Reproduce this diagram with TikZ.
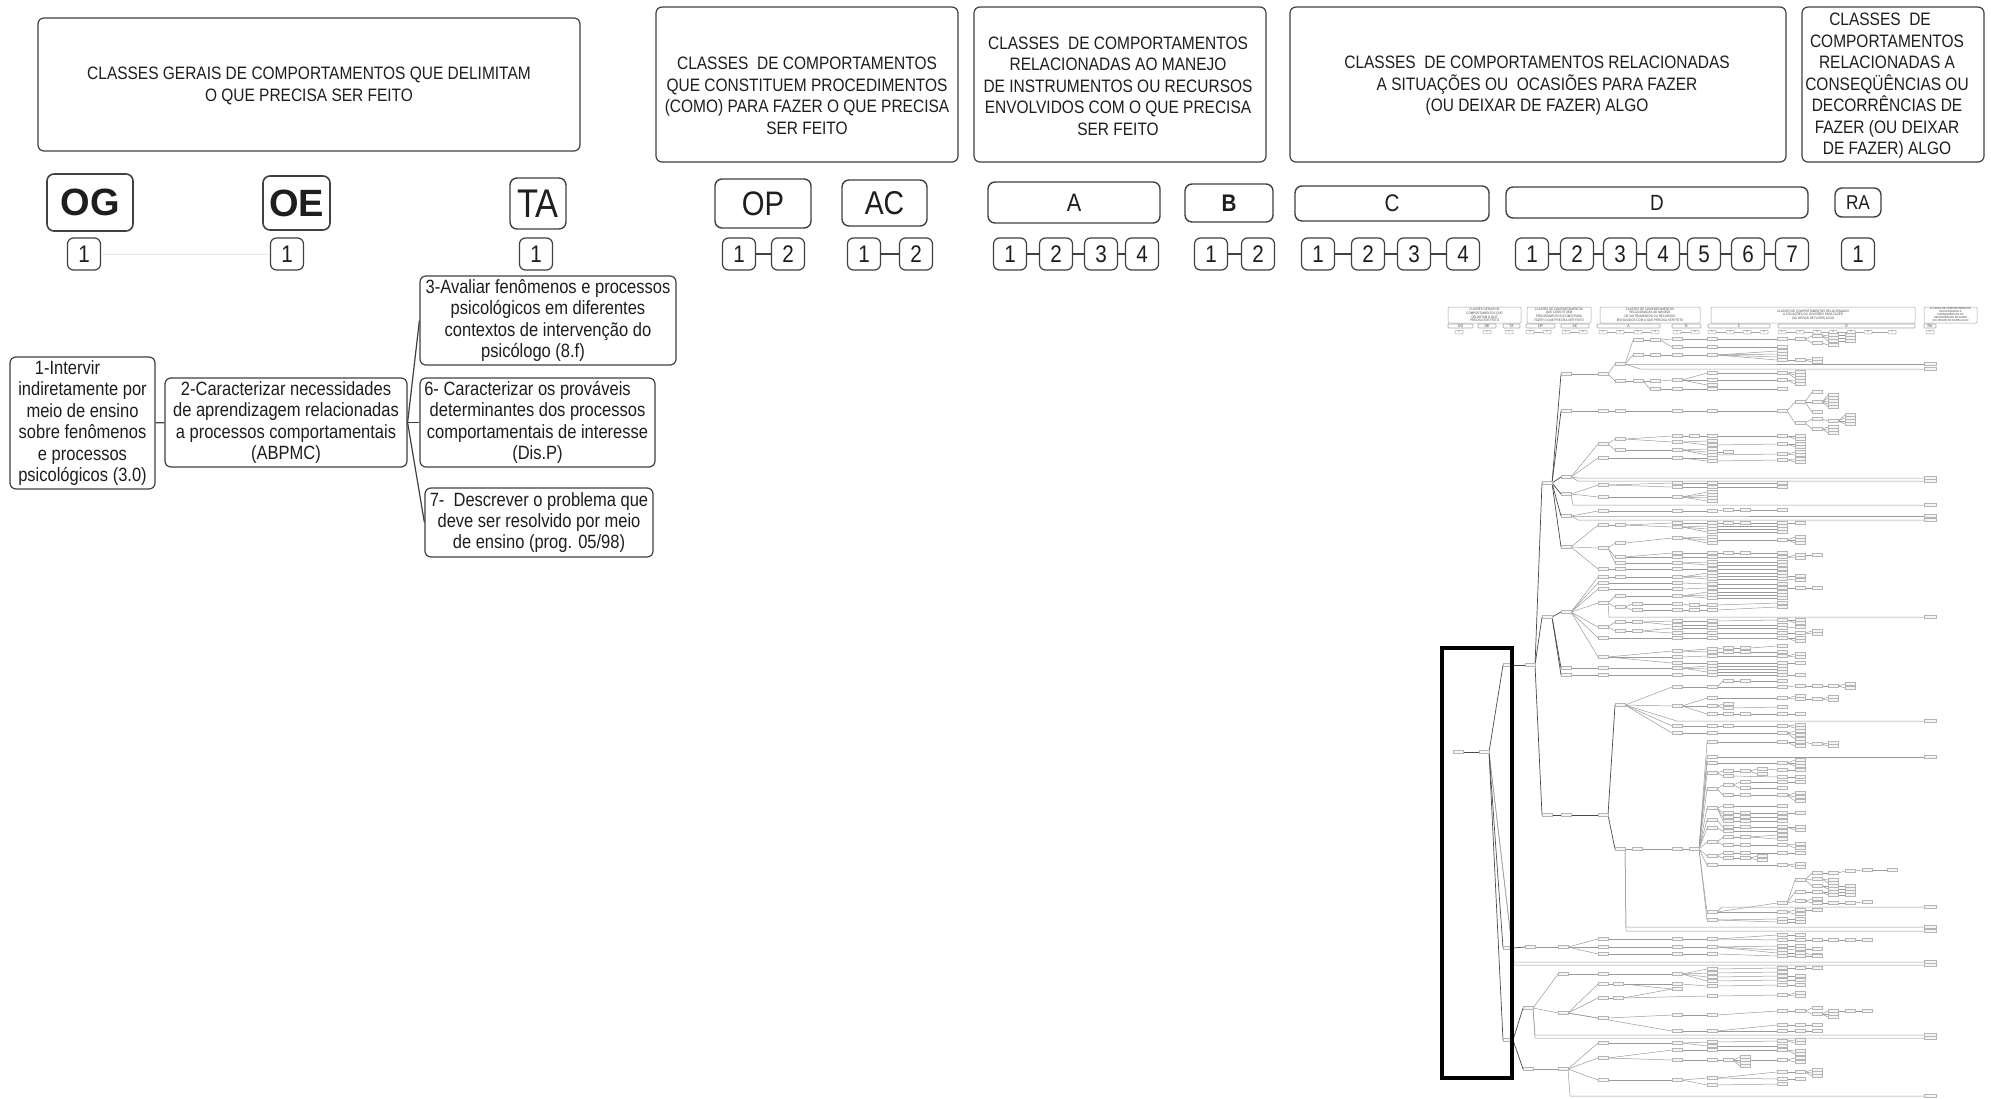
\documentclass[tikz,border=0pt]{standalone}
\usepackage{fontspec}
\setmainfont{Liberation Sans}[FakeStretch=0.86]
\newfontfamily\plainsans{Liberation Sans}
\definecolor{boxc}{HTML}{404040}
\definecolor{txtc}{HTML}{1E1E1E}
\definecolor{tlc}{HTML}{9A9A9A}
\definecolor{tdc}{HTML}{4A4A4A}
\tikzset{
 hbox/.style={draw=boxc, rounded corners=3pt, line width=0.6pt, inner sep=0pt},
 htxt/.style={align=center, text=txtc, inner sep=0pt, font=\fontsize{9}{10.75}\selectfont},
 cbox/.style={draw=boxc, rounded corners=3.5pt, line width=0.7pt, inner sep=0pt, text=txtc},
 nbox/.style={draw=boxc, rounded corners=3pt, line width=0.6pt, inner sep=0pt, minimum width=16.5pt, minimum height=16pt, text=txtc, font=\fontsize{12}{12}\selectfont},
 nline/.style={draw=boxc, line width=0.6pt},
 fbox/.style={draw=boxc, rounded corners=3pt, line width=0.6pt, inner sep=0pt, align=center, text=txtc, font=\fontsize{9.6}{10.7}\selectfont},
 conn/.style={draw=boxc, line width=0.6pt},
 tl/.style={draw=tlc, line width=0.25pt},
 td/.style={draw=tdc, line width=0.35pt},
 tb/.style={draw=gray!58, fill=gray!8, line width=0.18pt},
 mbox/.style={draw=gray!70, line width=0.25pt, inner sep=0pt, rounded corners=0.5pt, align=center, text=gray!55!black, font=\fontsize{1.7}{1.9}\selectfont},
 mcb/.style={draw=gray!70, line width=0.3pt, inner sep=0pt, rounded corners=0.4pt, minimum height=2pt, text=gray!50!black, font=\fontsize{2}{2}\selectfont},
 mnb/.style={draw=gray!70, line width=0.25pt, inner sep=0pt, rounded corners=0.3pt, minimum width=4pt, minimum height=1.75pt, text=gray!50!black, font=\fontsize{1.4}{1.4}\selectfont},
 mline/.style={draw=gray!70, line width=0.25pt}
}
\newcommand\MyTreeEdges[2]{\foreach \a/\b/\c/\d in {#2}{%
  \draw[#1] (\a+5,\b) -- (\c-5,\d);
  \draw[tb] (\a-5,\b-1.5) rectangle (\a+5,\b+1.5);
  \draw[tb] (\c-5,\d-1.5) rectangle (\c+5,\d+1.5);}}
\begin{document}
\begin{tikzpicture}[x=0.5pt,y=-0.5pt]
\useasboundingbox (0,0) rectangle (1991,1098);
\fill[white] (0,0) rectangle (1991,1098);

% ---------- header boxes ----------
\node[hbox, minimum width=271pt, minimum height=66.5pt] (h1) at (309,84.5) {};
\node[hbox, minimum width=151pt, minimum height=77.5pt] (h2) at (807,84.5) {};
\node[hbox, minimum width=146pt, minimum height=77.5pt] (h3) at (1120,84.5) {};
\node[hbox, minimum width=248pt, minimum height=77.5pt] (h4) at (1538,84.5) {};
\node[hbox, minimum width=91pt, minimum height=77.5pt] (h5) at (1893,84.5) {};
\node[htxt] (h1t) at (309,86) {CLASSES GERAIS DE COMPORTAMENTOS QUE DELIMITAM\\O QUE PRECISA SER FEITO};
\node[htxt] (h2t) at (807,96) {CLASSES\ \ DE COMPORTAMENTOS\\QUE CONSTITUEM PROCEDIMENTOS\\(COMO) PARA FAZER O QUE PRECISA\\SER FEITO};
\node[htxt] (h3t) at (1118,86) {CLASSES\ \ DE COMPORTAMENTOS\\RELACIONADAS AO MANEJO\\DE INSTRUMENTOS OU RECURSOS\\ENVOLVIDOS COM O QUE PRECISA\\SER FEITO};
\node[htxt] (h4t) at (1537,86) {CLASSES\ \ DE COMPORTAMENTOS RELACIONADAS\\A SITUAÇÕES OU\ \ OCASIÕES PARA FAZER\\(OU DEIXAR DE FAZER) ALGO};
\node[htxt] (h5t) at (1887,86) {CLASSES\ \ DE\hspace*{7pt}\\COMPORTAMENTOS\\RELACIONADAS A\\CONSEQÜÊNCIAS OU\\DECORRÊNCIAS DE\\FAZER (OU DEIXAR\\DE FAZER) ALGO};

% ---------- code boxes ----------
\node[cbox, minimum width=43pt, minimum height=28.5pt, line width=0.8pt] (og) at (90,202.5) {\plainsans\bfseries\fontsize{19}{19}\selectfont OG};
\node[cbox, minimum width=33.5pt, minimum height=27pt, line width=0.8pt] (oe) at (296.5,203) {\plainsans\bfseries\fontsize{19}{19}\selectfont OE};
\node[cbox, minimum width=28pt, minimum height=25.5pt] (ta) at (538,203.5) {\fontsize{20}{20}\selectfont TA};
\node[cbox, minimum width=48pt, minimum height=24.5pt] (op) at (763,203.5) {\fontsize{17}{17}\selectfont OP};
\node[cbox, minimum width=42.5pt, minimum height=23pt] (ac) at (884.5,203) {\fontsize{16.5}{16.5}\selectfont AC};
\node[cbox, minimum width=86pt, minimum height=20.5pt] (ca) at (1074,202.5) {\fontsize{12.6}{12.6}\selectfont A};
\node[cbox, minimum width=44pt, minimum height=19pt] (cb) at (1229,203) {\bfseries\fontsize{12}{12}\selectfont B};
\node[cbox, minimum width=97pt, minimum height=17.5pt] (cc) at (1392,203.5) {\fontsize{12}{12}\selectfont C};
\node[cbox, minimum width=151pt, minimum height=15.5pt] (cd) at (1657,202.5) {\fontsize{11}{11}\selectfont D};
\node[cbox, minimum width=23pt, minimum height=14.5pt] (ra) at (1858,202.5) {\fontsize{10}{10}\selectfont RA};

% ---------- number boxes ----------
\foreach \n/\x/\t in {og1/84/1, oe1/287/1, ta1/536/1, op1/739/1, op2/788/2, ac1/864/1, ac2/916/2,
  a1/1010/1, a2/1056/2, a3/1101/3, a4/1142/4, b1/1211/1, b2/1258/2,
  c1/1318/1, c2/1368/2, c3/1414/3, c4/1463/4,
  d1/1532/1, d2/1577/2, d3/1620/3, d4/1663/4, d5/1704/5, d6/1748/6, d7/1792/7, ra1/1858/1}
  \node[nbox] (\n) at (\x,254) {\t};
\foreach \p/\q in {op1/op2, ac1/ac2, a1/a2, a2/a3, a3/a4, b1/b2, c1/c2, c2/c3, c3/c4,
  d1/d2, d2/d3, d3/d4, d4/d5, d5/d6, d6/d7}
  \draw[nline] (\p) -- (\q);
\draw[draw=gray!18, line width=0.5pt] (og1) -- (oe1);

% ---------- flow boxes ----------
\node[fbox, minimum width=72.5pt, minimum height=66pt] (f1) at (82.5,423) {1-Intervir\hspace*{15pt}\\indiretamente por\\meio de ensino\\sobre fenômenos\\e processos\hspace*{8pt}\\psicológicos (3.0)};
\node[fbox, minimum width=121pt, minimum height=44.5pt] (f2) at (286,422.5) {2-Caracterizar necessidades\\de aprendizagem relacionadas\\a processos comportamentais\\(ABPMC)};
\node[fbox, minimum width=128pt, minimum height=44.5pt] (f3) at (548,320.5) {3-Avaliar fenômenos e processos\\psicológicos em diferentes\hspace*{7pt}\\contextos de intervenção do\hspace*{5pt}\\psicólogo (8.f)\hspace*{15pt}};
\node[fbox, minimum width=117.5pt, minimum height=44.5pt] (f6) at (537.5,422.5) {6- Caracterizar os prováveis\hspace*{10pt}\\determinantes dos processos\\comportamentais de interesse\\(Dis.P)};
\node[fbox, minimum width=114pt, minimum height=34.5pt] (f7) at (539,522.5) {7-\ \ Descrever o problema que\\deve ser resolvido por meio\hspace*{6pt}\\de ensino (prog. 05/98)};
\draw[conn] (f1) -- (f2);
\draw[conn] (f2.east) -- (f3.west);
\draw[conn] (f2.east) -- (f6.west);
\draw[conn] (f2.east) -- (f7.west);

% ---------- thumbnail: mini header ----------
\node[mbox, minimum width=36.5pt, minimum height=8pt] (m1) at (1484.5,315) {CLASSES GERAIS DE\\COMPORTAMENTOS QUE\\DELIMITAM O QUE\\PRECISA SER FEITO};
\node[mbox, minimum width=32pt, minimum height=8pt] (m2) at (1559,315) {CLASSES DE COMPORTAMENTOS\\QUE CONSTITUEM\\PROCEDIMENTOS (COMO) PARA\\FAZER O QUE PRECISA SER FEITO};
\node[mbox, minimum width=50pt, minimum height=8pt] (m3) at (1650,315) {CLASSES DE COMPORTAMENTOS\\RELACIONADAS AO MANEJO\\DE INSTRUMENTOS OU RECURSOS\\ENVOLVIDOS COM O QUE PRECISA SER FEITO};
\node[mbox, minimum width=102pt, minimum height=8pt] (m4) at (1813,315) {CLASSES DE COMPORTAMENTOS RELACIONADAS\\A SITUAÇÕES OU OCASIÕES PARA FAZER\\(OU DEIXAR DE FAZER) ALGO};
\node[mbox, minimum width=26.5pt, minimum height=8pt, font=\fontsize{1.45}{1.55}\selectfont] (m5) at (1950.5,315) {CLASSES DE COMPORTAMENTOS\\RELACIONADAS A\\CONSEQÜÊNCIAS OU\\DECORRÊNCIAS DE FAZER\\(OU DEIXAR DE FAZER) ALGO};
\foreach \n/\x/\w/\t in {mog/1460.5/12.5/OG, moe/1487/9/OE, mta/1511.5/8.5/TA, mop/1540.5/14.5/OP, mac/1575/14/AC,
  mca/1628.5/31.5/A, mcb/1686.5/14.5/B, mcc/1739/31/C, mcd/1846.5/68.5/D, mra/1930/6/RA}
  \node[mcb, minimum width=\w pt] (\n) at (\x,326) {\t};
\foreach \n/\x/\t in {mn1/1459/1, mn2/1487/1, mn3/1509/1, mn4/1530/1, mn5/1547/2, mn6/1566/1, mn7/1583/2,
  mn8/1603/1, mn9/1620/2, mn10/1638/3, mn11/1655/4, mn12/1677/1, mn13/1695/2,
  mn14/1712/1, mn15/1730/2, mn16/1747/3, mn17/1764/4,
  mn18/1782/1, mn19/1800/2, mn20/1817/3, mn21/1833/4, mn22/1851/5, mn23/1868/6, mn24/1892/7, mn25/1930/1}
  \node[mnb] (\n) at (\x,332) {\t};
\foreach \p/\q in {mn4/mn5, mn6/mn7, mn8/mn9, mn9/mn10, mn10/mn11, mn12/mn13, mn14/mn15, mn15/mn16, mn16/mn17,
  mn18/mn19, mn19/mn20, mn20/mn21, mn21/mn22, mn22/mn23, mn23/mn24}
  \draw[mline] (\p) -- (\q);

% ---------- thumbnail: tree ----------
% long edges to the RA column
\foreach \a/\b/\m/\y in {1620/364/1632/364, 1620/364/1640/369, 1566/477/1578/478, 1566/477/1578/481,
  1566/494/1573/505, 1566/516/1578/516, 1566/516/1578/520, 1603/603/1609/617, 1620/705/1677/721,
  1712/757/1722/757, 1712/912/1722/907, 1620/849/1626/927, 1620/849/1626/931, 1484/752/1514/962,
  1484/752/1514/965, 1528/1008/1535/1035, 1528/1008/1535/1038, 1563/1069/1570/1096}{
  \draw[tl] (\a+5,\b) -- (\m,\y) -- (1924,\y);
  \draw[tb] (1924,\y-1.5) rectangle (1936,\y+1.5);}
% trunk
\MyTreeEdges{td}{1458/752/1484/752, 1484/752/1508/665, 1484/752/1508/948, 1484/752/1508/1040,
 1508/665/1530/665, 1530/665/1547/483, 1530/665/1547/617, 1530/665/1547/815,
 1547/483/1566/374, 1547/483/1566/411, 1547/483/1566/477, 1547/483/1566/494, 1547/483/1566/516, 1547/483/1566/547,
 1547/617/1566/612, 1547/617/1566/668, 1547/617/1566/675, 1547/815/1566/815, 1566/815/1603/815,
 1603/815/1620/705, 1603/815/1620/849, 1508/948/1530/947, 1508/1040/1528/1008, 1508/1040/1528/1069}
% branch A1
\MyTreeEdges{tl}{1566/374/1603/374, 1603/374/1620/364, 1603/374/1620/381, 1620/364/1638/340, 1620/364/1638/355,
 1638/340/1655/340, 1655/340/1677/339, 1655/340/1677/347, 1677/339/1712/339, 1712/339/1782/339, 1782/339/1800/339,
 1800/339/1817/336, 1800/339/1817/343, 1817/336/1833/335, 1817/336/1833/338, 1817/336/1833/341,
 1833/335/1850/335, 1833/338/1850/338, 1833/341/1850/341, 1817/343/1833/345, 1677/347/1712/347, 1712/347/1782/347,
 1638/355/1655/355, 1655/355/1677/355, 1677/355/1712/355, 1712/355/1782/351, 1712/355/1782/354, 1712/355/1782/357,
 1712/355/1782/360, 1782/360/1800/360, 1800/360/1817/359, 1800/360/1817/362, 1620/381/1638/381, 1638/381/1655/381,
 1655/381/1677/380, 1638/381/1655/389, 1655/389/1677/389, 1677/380/1712/373, 1677/380/1712/380, 1677/380/1712/385,
 1677/389/1712/389, 1712/373/1782/373, 1782/373/1800/372, 1782/373/1800/375, 1782/373/1800/378, 1712/380/1782/380,
 1782/380/1800/381, 1782/380/1800/384, 1712/389/1782/389}
% branch A2
\MyTreeEdges{tl}{1566/411/1603/411, 1603/411/1620/411, 1620/411/1677/411, 1677/411/1712/411, 1712/411/1782/411,
 1782/411/1800/402, 1782/411/1800/423, 1800/402/1817/392, 1800/402/1817/402, 1800/402/1817/412,
 1817/402/1833/395, 1817/402/1833/398, 1817/402/1833/401, 1817/402/1833/404, 1817/402/1833/407,
 1800/423/1817/419, 1800/423/1817/429, 1817/419/1833/421, 1833/421/1850/415, 1833/421/1850/418,
 1833/421/1850/421, 1833/421/1850/424, 1817/429/1833/427, 1817/429/1833/430, 1817/429/1833/433}
% branch A3, A4, A5
\MyTreeEdges{tl}{1566/477/1603/444, 1566/477/1603/458, 1603/444/1620/439, 1603/444/1620/450, 1620/439/1677/436,
 1677/436/1694/436, 1694/436/1712/436, 1712/436/1782/436, 1782/436/1800/436, 1782/436/1800/439, 1620/439/1677/442,
 1677/442/1712/441, 1677/442/1712/445, 1712/445/1782/444, 1782/444/1800/444, 1782/444/1800/447, 1620/450/1677/450,
 1677/450/1712/449, 1677/450/1712/452, 1677/450/1712/455, 1712/452/1728/452, 1712/455/1782/454, 1782/454/1800/452,
 1782/454/1800/455, 1603/458/1677/458, 1677/458/1712/458, 1677/458/1712/461, 1712/461/1782/460, 1782/460/1800/459,
 1782/460/1800/462,
 1566/494/1603/485, 1566/494/1603/497, 1603/485/1677/483, 1603/485/1677/487, 1677/483/1712/483, 1677/487/1712/487,
 1712/483/1782/483, 1712/487/1782/487, 1603/497/1677/497, 1677/497/1712/492, 1677/497/1712/495, 1677/497/1712/498,
 1677/497/1712/501,
 1566/516/1603/511, 1603/511/1677/511, 1677/511/1712/511, 1712/511/1728/510, 1728/510/1745/510, 1745/510/1782/510}
% branch A6
\MyTreeEdges{tl}{1566/547/1603/525, 1566/547/1603/548, 1566/547/1603/569, 1603/525/1620/525, 1620/525/1677/523,
 1620/525/1677/527, 1677/523/1712/523, 1677/527/1712/526, 1677/527/1712/529, 1677/527/1712/532, 1712/523/1728/523,
 1728/523/1745/523, 1745/523/1782/523, 1782/523/1800/523, 1712/526/1782/526, 1712/529/1782/529, 1712/532/1782/532,
 1603/548/1620/543, 1620/543/1677/538, 1677/538/1712/537, 1677/538/1712/540, 1677/538/1712/543, 1712/540/1782/540,
 1782/540/1800/537, 1782/540/1800/540, 1782/540/1800/543, 1603/548/1620/557, 1603/548/1620/563, 1620/557/1677/553,
 1620/557/1677/557, 1677/553/1712/553, 1712/553/1728/553, 1728/553/1745/553, 1745/553/1782/553, 1677/557/1712/557,
 1712/557/1782/557, 1782/557/1800/555, 1782/557/1800/558, 1800/555/1817/555, 1620/563/1677/563, 1677/563/1712/562,
 1677/563/1712/565, 1712/562/1782/562, 1712/565/1782/565, 1603/569/1620/569, 1620/569/1677/569, 1677/569/1712/569,
 1712/569/1782/569}
% branch T2
\MyTreeEdges{tl}{1566/612/1603/577, 1566/612/1603/583, 1566/612/1603/589, 1566/612/1603/603, 1566/612/1603/627,
 1566/612/1603/638, 1566/612/1603/657, 1603/577/1620/577, 1620/577/1677/577, 1677/577/1712/573, 1677/577/1712/576,
 1677/577/1712/579, 1712/573/1782/573, 1712/576/1782/576, 1712/579/1782/579, 1782/576/1800/576, 1782/579/1800/580,
 1603/583/1677/583, 1677/583/1712/584, 1712/584/1782/584, 1603/589/1677/589, 1677/589/1712/588, 1712/588/1782/588,
 1782/588/1800/588, 1800/588/1817/588, 1603/603/1620/596, 1603/603/1620/607, 1620/596/1677/596, 1677/596/1712/592,
 1677/596/1712/595, 1677/596/1712/598, 1712/592/1782/592, 1712/595/1782/595, 1712/598/1782/598, 1620/607/1637/604,
 1620/607/1637/610, 1637/604/1677/604, 1637/610/1677/610, 1677/604/1694/605, 1677/610/1694/610, 1694/605/1712/605,
 1694/610/1712/610, 1712/605/1782/603, 1712/610/1782/607, 1603/627/1620/622, 1603/627/1620/631, 1620/622/1637/622,
 1620/631/1637/631, 1637/622/1677/621, 1637/622/1677/625, 1637/631/1677/628, 1637/631/1677/633, 1677/621/1712/621,
 1677/625/1712/625, 1677/628/1712/628, 1677/633/1712/633, 1712/621/1782/620, 1782/620/1800/620, 1782/620/1800/623,
 1712/625/1782/625, 1712/628/1782/628, 1782/628/1800/627, 1712/633/1782/633, 1782/633/1800/633, 1800/633/1817/631,
 1800/633/1817/634, 1603/638/1677/638, 1677/638/1712/638, 1712/638/1782/638, 1782/638/1800/638, 1782/638/1800/641,
 1603/657/1677/651, 1603/657/1677/657, 1603/657/1677/663, 1677/651/1712/649, 1677/651/1712/652, 1712/649/1728/648,
 1728/648/1745/648, 1745/648/1782/646, 1712/652/1728/652, 1728/652/1745/652, 1745/652/1782/652, 1677/657/1712/656,
 1712/656/1782/656, 1782/656/1800/654, 1782/656/1800/657, 1677/663/1712/663, 1712/663/1782/663, 1782/663/1800/663,
 1566/668/1603/668, 1603/668/1677/668, 1677/668/1712/666, 1677/668/1712/669, 1677/668/1712/672, 1712/666/1782/666,
 1712/669/1782/669, 1712/672/1782/672, 1566/675/1603/675, 1603/675/1677/675, 1677/675/1712/675, 1712/675/1782/675,
 1782/675/1800/675}
% branch P
\MyTreeEdges{tl}{1620/705/1677/687, 1620/705/1677/706, 1620/705/1677/726, 1620/705/1677/733, 1677/687/1712/687,
 1712/687/1782/687, 1782/687/1800/686, 1800/686/1817/686, 1817/686/1833/686, 1833/686/1850/684, 1833/686/1850/688,
 1712/687/1728/681, 1728/681/1745/681, 1745/681/1782/681, 1677/706/1712/698, 1677/706/1712/706, 1677/706/1712/714,
 1712/698/1782/698, 1782/698/1800/696, 1782/698/1800/699, 1800/699/1817/699, 1817/699/1833/697, 1817/699/1833/700,
 1712/706/1728/704, 1712/706/1728/708, 1728/708/1782/707, 1712/714/1728/714, 1728/714/1745/714, 1745/714/1782/714,
 1782/714/1800/714, 1677/726/1712/726, 1712/726/1728/726, 1728/726/1782/726, 1782/726/1800/725, 1782/726/1800/728,
 1677/733/1712/733, 1712/733/1782/733, 1782/733/1800/731, 1782/733/1800/735, 1782/733/1800/739}
% branch Q
\MyTreeEdges{tl}{1620/849/1637/849, 1637/849/1677/849, 1677/849/1694/849, 1694/849/1712/742, 1694/849/1712/757,
 1694/849/1712/763, 1694/849/1712/773, 1694/849/1712/789, 1694/849/1712/808, 1694/849/1712/820, 1694/849/1712/828,
 1694/849/1712/842, 1694/849/1712/856, 1694/849/1712/865, 1694/849/1712/912, 1694/849/1712/920,
 1712/742/1782/742, 1782/742/1800/742, 1782/742/1800/746, 1800/742/1817/744, 1817/744/1833/743, 1817/744/1833/746,
 1712/763/1782/763, 1782/763/1800/760, 1782/763/1800/763, 1782/763/1800/766,
 1712/773/1728/771, 1712/773/1728/776, 1728/771/1745/771, 1745/771/1762/769, 1745/771/1762/774, 1762/769/1782/770,
 1728/776/1782/777, 1782/770/1800/770, 1782/777/1800/777,
 1712/789/1728/785, 1712/789/1728/795, 1728/785/1745/782, 1728/785/1745/788, 1745/782/1782/782, 1745/788/1782/788,
 1728/795/1745/795, 1745/795/1782/795, 1782/782/1800/782, 1782/795/1800/793, 1782/795/1800/797, 1782/795/1800/801,
 1712/808/1728/806, 1712/808/1728/813, 1712/808/1728/817, 1712/808/1728/821, 1728/806/1782/806, 1728/813/1745/813,
 1728/817/1745/817, 1728/821/1745/821, 1745/813/1782/813, 1745/817/1782/817, 1745/821/1782/821, 1782/813/1800/813,
 1712/820/1728/827, 1728/827/1745/827, 1745/827/1782/827, 1782/827/1800/827, 1782/827/1800/830,
 1712/828/1728/831, 1728/831/1782/831,
 1712/842/1728/837, 1728/837/1745/837, 1745/837/1782/835, 1745/837/1782/839, 1712/842/1728/845, 1728/845/1745/845,
 1745/845/1782/845, 1782/845/1800/844, 1782/845/1800/848,
 1712/856/1728/853, 1712/856/1728/858, 1728/853/1745/853, 1728/858/1745/858, 1745/858/1762/856, 1745/858/1762/860,
 1745/853/1782/853, 1782/853/1800/853,
 1712/865/1782/865, 1782/865/1800/864, 1782/865/1800/867,
 1712/912/1782/903, 1712/912/1782/912, 1782/912/1800/910, 1782/912/1800/914, 1800/910/1817/910,
 1782/903/1800/880, 1782/903/1800/892, 1782/903/1800/901,
 1800/880/1817/873, 1800/880/1817/879, 1800/880/1817/886, 1817/873/1833/873, 1833/873/1850/871, 1850/871/1867/870,
 1867/870/1892/870, 1817/879/1833/880, 1817/879/1833/883, 1817/886/1833/886, 1817/886/1833/889, 1833/886/1850/886,
 1833/889/1850/889, 1800/892/1817/892, 1817/892/1833/892, 1817/892/1833/895, 1833/892/1850/892, 1833/895/1850/895,
 1800/901/1817/899, 1800/901/1817/903, 1817/903/1833/903, 1833/903/1850/903, 1850/903/1867/902,
 1712/920/1782/919, 1712/920/1782/922, 1782/919/1800/919, 1782/922/1800/922}
% branch Nb
\MyTreeEdges{tl}{1530/947/1563/947, 1563/947/1603/939, 1563/947/1603/947, 1563/947/1603/954, 1603/939/1677/939,
 1677/939/1712/939, 1712/939/1782/935, 1712/939/1782/940, 1782/935/1800/935, 1782/940/1800/940, 1800/940/1817/940,
 1817/940/1833/940, 1833/940/1850/940, 1850/940/1867/940, 1603/947/1677/947, 1677/947/1712/947, 1712/947/1782/946,
 1712/947/1782/950, 1712/947/1782/953, 1782/946/1800/946, 1782/950/1800/949, 1782/953/1800/953, 1800/949/1817/949,
 1800/953/1817/955, 1603/954/1677/954, 1677/954/1712/954, 1712/954/1782/956, 1782/956/1800/956, 1800/956/1817/956}
% branch Nc
\MyTreeEdges{tl}{1528/1008/1563/974, 1528/1008/1563/1013, 1563/974/1603/974, 1603/974/1677/974, 1677/974/1712/969,
 1677/974/1712/973, 1677/974/1712/977, 1677/974/1712/981, 1712/969/1782/968, 1782/968/1800/968, 1800/968/1817/968,
 1712/973/1782/972, 1712/977/1782/976, 1782/976/1800/976, 1712/981/1782/980, 1782/980/1800/980,
 1563/1013/1603/984, 1563/1013/1603/998, 1563/1013/1603/1018, 1563/1013/1677/1031, 1603/984/1618/984,
 1618/984/1677/984, 1618/984/1677/989, 1677/984/1712/986, 1712/986/1782/985, 1782/985/1800/985, 1603/998/1618/998,
 1618/998/1677/989, 1618/998/1712/996, 1712/996/1782/995, 1782/995/1800/993, 1782/995/1800/996, 1603/1018/1677/1015,
 1677/1015/1712/1015, 1712/1015/1782/1011, 1782/1011/1800/1011, 1800/1011/1817/1008, 1800/1011/1817/1014,
 1817/1014/1833/1011, 1817/1014/1833/1014, 1817/1014/1833/1017, 1833/1011/1850/1011, 1850/1011/1867/1011,
 1677/1031/1712/1031, 1712/1031/1782/1025, 1712/1031/1782/1031, 1782/1025/1800/1025, 1800/1025/1817/1025,
 1782/1031/1800/1031, 1800/1031/1817/1031,
 1528/1069/1563/1069, 1563/1069/1603/1043, 1563/1069/1603/1058, 1563/1069/1603/1080, 1603/1043/1677/1043,
 1677/1043/1712/1042, 1677/1043/1712/1046, 1712/1042/1782/1041, 1712/1046/1782/1046, 1782/1041/1800/1040,
 1782/1041/1800/1043, 1603/1058/1677/1050, 1603/1058/1677/1060, 1677/1050/1712/1050, 1712/1050/1782/1050,
 1782/1050/1800/1051, 1782/1050/1800/1054, 1677/1060/1712/1060, 1712/1060/1728/1060, 1728/1060/1745/1057,
 1728/1060/1745/1060, 1728/1060/1745/1063, 1728/1060/1745/1066, 1745/1060/1782/1060, 1782/1060/1800/1058,
 1782/1060/1800/1062, 1603/1080/1677/1080, 1677/1080/1712/1078, 1677/1080/1712/1085, 1712/1078/1782/1072,
 1712/1078/1782/1079, 1782/1072/1800/1072, 1800/1072/1817/1070, 1800/1072/1817/1073, 1800/1072/1817/1076,
 1782/1079/1800/1079, 1712/1085/1782/1084}
% black frame
\draw[black, line width=2pt] (1442,648) rectangle (1512,1078);
\end{tikzpicture}
\end{document}
